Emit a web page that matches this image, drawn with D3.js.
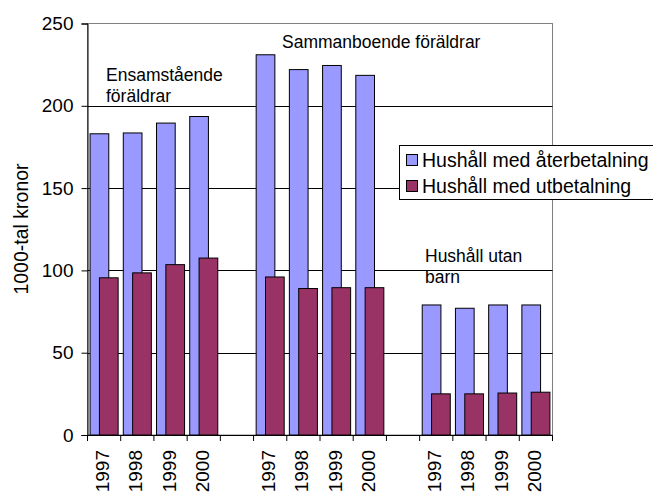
<!DOCTYPE html>
<html>
<head>
<meta charset="utf-8">
<script src="https://cdn.jsdelivr.net/npm/d3@7"></script>
<style>
  body { margin: 0; background: #fff; }
  svg { font-family: Arial, "Liberation Sans", sans-serif; display: block; }
</style>
</head>
<body>
<div id="chart"></div>
<script>
// data
const groups = ["Ensamstående föräldrar", "Sammanboende föräldrar", "Hushåll utan barn"];
const years = ["1997", "1998", "1999", "2000"];
const aterbetalning = [[183, 183.5, 189.5, 193.5], [231, 222, 224.5, 218.5], [79, 77, 79, 79]];
const utbetalning = [[95.5, 98.5, 103.5, 107.5], [96, 89, 89.5, 89.5], [25, 25, 25.5, 26]];
const seriesNames = ["Hushåll med återbetalning", "Hushåll med utbetalning"];
const yTicks = [0, 50, 100, 150, 200, 250];

const width = 653, height = 494;
const plotL = 87.5, plotT = 23.5, plotR = 552.5, plotB = 435;

// slots: 4 years per group, an empty slot between groups
const slots = [];
groups.forEach((g, gi) => {
  years.forEach((yr, yi) => slots.push({key: gi + "-" + yr, year: yr, g: gi, i: yi}));
  if (gi < groups.length - 1) slots.push({key: "gap" + gi, year: "", g: gi, i: -1});
});

const x = d3.scaleBand().domain(slots.map(d => d.key)).range([plotL, plotR]);
const y = d3.scaleLinear().domain([0, 250]).range([plotB, plotT]);

const svg = d3.select("#chart").append("svg")
    .attr("width", width)
    .attr("height", height);

// plot border (top/right grey)
svg.append("rect")
    .attr("x", plotL).attr("y", plotT)
    .attr("width", plotR - plotL).attr("height", plotB - plotT)
    .attr("fill", "none").attr("stroke", "#808080").attr("stroke-width", 1);

// gridlines
svg.append("g")
  .selectAll("line")
  .data(yTicks.filter(v => v > 0 && v < 250))
  .join("line")
    .attr("x1", plotL).attr("x2", plotR)
    .attr("y1", d => Math.round(y(d)) + 0.5).attr("y2", d => Math.round(y(d)) + 0.5)
    .attr("stroke", "#000");

// bars
const bw = x.bandwidth();
const barW = bw * 0.563;
const pad = (bw - barW * 1.5) / 2;
const bars = slots.filter(d => d.i >= 0).map(d => ({
  key: d.key, a: aterbetalning[d.g][d.i], u: utbetalning[d.g][d.i]
}));

svg.append("g")
  .selectAll("rect")
  .data(bars)
  .join("rect")
    .attr("x", d => x(d.key) + pad)
    .attr("y", d => y(d.a))
    .attr("width", barW)
    .attr("height", d => y(0) - y(d.a))
    .attr("fill", "#9999FF")
    .attr("stroke", "#000")
    .attr("stroke-width", 1);

svg.append("g")
  .selectAll("rect")
  .data(bars)
  .join("rect")
    .attr("x", d => x(d.key) + pad + barW * 0.5)
    .attr("y", d => y(d.u))
    .attr("width", barW)
    .attr("height", d => y(0) - y(d.u))
    .attr("fill", "#993366")
    .attr("stroke", "#000")
    .attr("stroke-width", 1);

// y axis
const yAxis = svg.append("g")
    .attr("transform", `translate(${plotL},0)`)
    .call(d3.axisLeft(y).tickValues(yTicks).tickSize(6).tickPadding(8));
yAxis.select(".domain").attr("stroke", "#000");
yAxis.selectAll("text").attr("font-size", 19).attr("fill", "#000").attr("font-family", null);

// x axis: tick marks at slot edges, labels at centres
const xAxis = svg.append("g").attr("transform", `translate(0,${plotB})`);
xAxis.append("line")
    .attr("x1", plotL).attr("x2", plotR)
    .attr("y1", 0.5).attr("y2", 0.5)
    .attr("stroke", "#000");
xAxis.selectAll(".tk")
  .data(slots.map(d => x(d.key)).concat([plotR]))
  .join("line")
    .attr("class", "tk")
    .attr("x1", d => d).attr("x2", d => d)
    .attr("y1", 0).attr("y2", 6)
    .attr("stroke", "#000");
xAxis.selectAll("text")
  .data(slots.filter(d => d.year))
  .join("text")
    .attr("transform", d => `translate(${x(d.key) + bw / 2 + 5},15) rotate(-90)`)
    .attr("text-anchor", "end")
    .attr("font-size", 19)
    .text(d => d.year);

// y title
svg.append("text")
    .attr("transform", "translate(28,229) rotate(-90)")
    .attr("text-anchor", "middle")
    .attr("font-size", 19.5)
    .text("1000-tal kronor");

// group annotations
const notes = [
  {lines: ["Ensamstående", "föräldrar"], x: 106, y: 81},
  {lines: ["Sammanboende föräldrar"], x: 282, y: 48},
  {lines: ["Hushåll utan", "barn"], x: 425, y: 262}
];
notes.forEach(n => {
  svg.append("text")
      .attr("font-size", 17.5)
      .selectAll("tspan")
      .data(n.lines)
      .join("tspan")
        .attr("x", n.x)
        .attr("y", (d, i) => n.y + i * 20.5)
        .text(d => d);
});

// legend
const lg = svg.append("g").attr("transform", "translate(399,145)");
lg.append("rect")
    .attr("x", 0.5).attr("y", 0.5)
    .attr("width", 270).attr("height", 54)
    .attr("fill", "#fff").attr("stroke", "#000");
const colors = ["#9999FF", "#993366"];
seriesNames.forEach((s, i) => {
  lg.append("rect")
      .attr("x", 7.5).attr("y", 9.5 + i * 26)
      .attr("width", 11).attr("height", 11)
      .attr("fill", colors[i]).attr("stroke", "#000");
  lg.append("text")
      .attr("x", 23).attr("y", 22 + i * 26)
      .attr("font-size", 19.5)
      .text(s);
});
</script>
</body>
</html>
